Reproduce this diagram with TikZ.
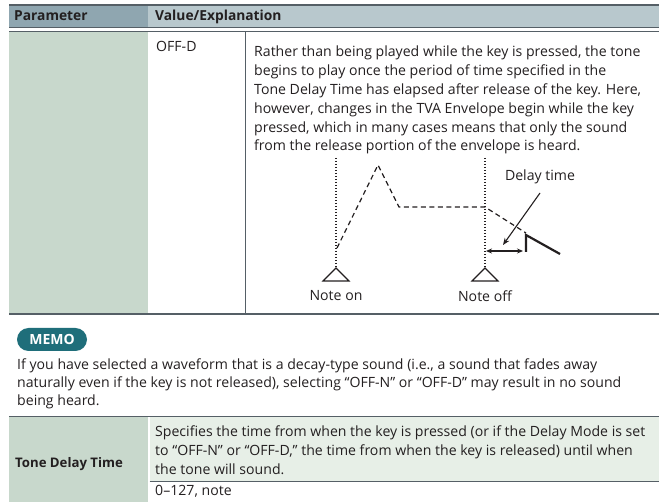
\documentclass[tikz,border=0pt]{standalone}
\usepackage{fontspec}
\setmainfont{Open Sans}
\usetikzlibrary{arrows.meta}
\definecolor{ink}{HTML}{231F20}
\definecolor{rulegray}{HTML}{555F66}
\definecolor{hdrdark}{HTML}{8FA6B0}
\definecolor{hdrlight}{HTML}{B8C8CD}
\definecolor{cellgreen}{HTML}{C8D8CC}
\definecolor{palegreen}{HTML}{E7EFE7}
\definecolor{memoteal}{HTML}{1F6E7A}
\begin{document}
\begin{tikzpicture}[x=1pt,y=-1pt,
  txt/.style={font=\fontsize{14.1}{16}\selectfont, text=ink, inner sep=0pt, anchor=base west},
  boldtxt/.style={txt, font=\fontsize{13.8}{16}\selectfont\bfseries},
  lbl/.style={font=\fontsize{14.1}{16}\selectfont, text=ink, inner sep=0pt},
  rulethick/.style={draw=rulegray, line width=1.3pt},
  rulethin/.style={draw=rulegray, line width=0.8pt},
  keyline/.style={draw=ink, line width=1.3pt, dash pattern=on 1.2pt off 1.8pt},
  envline/.style={draw=ink, line width=1.2pt, dash pattern=on 5pt off 3.5pt},
  keymark/.style={draw=ink, line width=1.1pt, line join=miter},
  pointer/.style={draw=ink, line width=1.1pt, -{Stealth[length=7pt,width=5.5pt]}},
  span/.style={draw=ink, line width=1.1pt, {Stealth[length=6pt,width=5pt]}-{Stealth[length=6pt,width=5pt]}},
]
\useasboundingbox (0,0) rectangle (667,502);

% ---- header row ----
\fill[hdrdark] (9,5) rectangle (148,27.5);
\fill[hdrlight] (148,5) rectangle (659,27.5);
\draw[rulethick, line width=1.6pt] (9,5) -- (659,5);
\draw[rulethick] (9,27.5) -- (659,27.5);
\draw[rulethin] (9,31.5) -- (659,31.5);
\node[boldtxt] (hparam) at (14,21) {Parameter};
\node[boldtxt] (hvalue) at (155,21) {Value/Explanation};

% ---- OFF-D row ----
\fill[cellgreen] (9,32) rectangle (148,313.5);
\draw[draw=rulegray, line width=0.9pt] (245,32) -- (245,313.5);
\draw[rulethick] (9,314) -- (659,314);
\node[txt] (offd) at (156,52) {OFF-D};

\foreach \t [count=\i from 0] in {
  {Rather than being played while the key is pressed, the tone},
  {begins to play once the period of time specified in the},
  {Tone Delay Time has elapsed after release of the key. Here,},
  {however, changes in the TVA Envelope begin while the key},
  {pressed, which in many cases means that only the sound},
  {from the release portion of the envelope is heard.}}
  \node[txt] (body\i) at (254,57+18.8*\i) {\t};

% ---- envelope figure ----
\coordinate (ontop) at (336,158);
\coordinate (onkey) at (336,268);
\coordinate (offtop) at (485,158);
\coordinate (offkey) at (485,268);
\draw[keyline] (ontop) -- (onkey);
\draw[keyline] (offtop) -- (offkey);
\draw[keymark] (onkey) -- (323,281) -- (349,281) -- cycle;
\draw[keymark] (offkey) -- (472,281) -- (498,281) -- cycle;
\node[lbl] (noteon) at (336,296) {Note on};
\node[lbl] (noteoff) at (485,296) {Note off};

\coordinate (e0) at (337,248);
\coordinate (e1) at (378,165);
\coordinate (e2) at (399,207);
\coordinate (e3) at (485,207);
\coordinate (e4) at (526,233);
\draw[envline] (e0) -- (e1) -- (e2) -- (e3) -- (e4);

\coordinate (rtop) at (526,235);
\coordinate (rbot) at (526,252);
\coordinate (rend) at (560,254);
\draw[ink, line width=2.2pt, line join=miter] (rbot) -- (rtop) -- (rend);

\coordinate (sl) at (486,251);
\coordinate (sr) at (523,251);
\draw[span] (sl) -- (sr);

\node[lbl] (delay) at (540,177) {Delay time};
\coordinate (ptail) at (540,193);
\coordinate (phead) at (503,245);
\draw[pointer] (ptail) -- (phead);

% ---- memo ----
\node[fill=memoteal, rounded corners=11.5pt, minimum width=70pt, minimum height=23pt,
      inner sep=0pt, text=white, font=\fontsize{14}{16}\selectfont\bfseries]
  (memo) at (52,339.5) {MEMO};
\node[txt] (memo0) at (17,370) {If you have selected a waveform that is a decay-type sound (i.e., a sound that fades away};
\node[txt] (memo1) at (17,387.7) {naturally even if the key is not released), selecting “OFF-N” or “OFF-D” may result in no sound};
\node[txt] (memo2) at (17,405.4) {being heard.};

% ---- Tone Delay Time row ----
\fill[cellgreen] (9,416) rectangle (148,502);
\fill[palegreen] (149.5,416) rectangle (659,481);
\draw[rulethin] (9,416) -- (659,416);
\draw[rulethin] (149.5,481) -- (659,481);
\node[boldtxt, font=\fontsize{13.2}{16}\selectfont\bfseries] (tdt) at (15,467.5) {Tone Delay Time};
\node[txt] (spec0) at (155,437) {Specifies the time from when the key is pressed (or if the Delay Mode is set};
\node[txt] (spec1) at (155,456) {to “OFF-N” or “OFF-D,” the time from when the key is released) until when};
\node[txt] (spec2) at (155,475) {the tone will sound.};
\node[txt] (range) at (155,496) {0–127, note};
\end{tikzpicture}
\end{document}
